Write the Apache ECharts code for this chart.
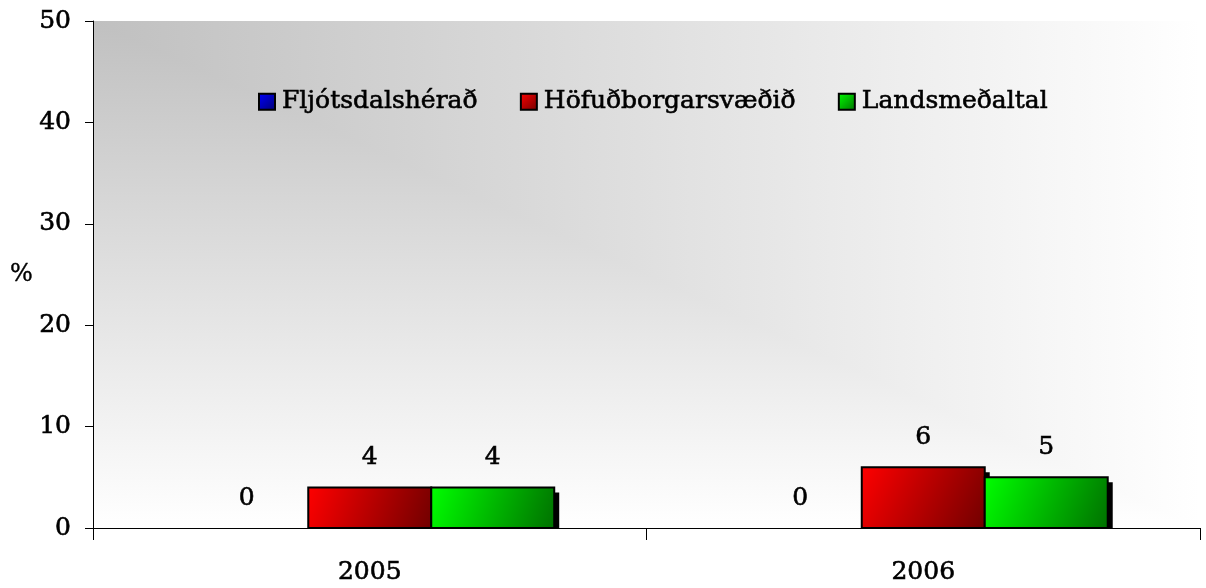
<!DOCTYPE html>
<html>
<head>
<meta charset="utf-8">
<script src="https://cdn.jsdelivr.net/npm/echarts@6/dist/echarts.min.js"></script>
<style>
  html, body { margin: 0; padding: 0; background: #fff; }
  #main { width: 1206px; height: 588px; }
</style>
</head>
<body>
<div id="main"></div>
<script>
var years = ['2005', '2006'];
var seriesNames = ['Fljótsdalshérað', 'Höfuðborgarsvæðið', 'Landsmeðaltal'];
var fljotsdalsherad = [0, 0];
var hofudborgarsvaedid = [4, 6];
var landsmedaltal = [4, 5];

var myChart = echarts.init(document.getElementById('main'));

var font = 'DejaVu Serif';
var fontSize = 25;
var G = { left: 93, right: 6, top: 21, bottom: 60 };
var W = 1206, H = 588;

function grad(light, dark) {
    return new echarts.graphic.LinearGradient(0, 0, 1, 1, [
        { offset: 0, color: light },
        { offset: 1, color: dark }
    ]);
}

var colors = [
    grad('#0000ff', '#000070'),
    grad('#ff0000', '#700000'),
    grad('#00ff00', '#007000')
];

// bars drawn by hand so the drop shadow sits behind the border
function makeSeries(idx, name, values) {
    var data = values.map(function (v, i) { return [i, v]; });
    return {
        name: name,
        type: 'custom',
        data: data,
        encode: { x: 0, y: 1 },
        itemStyle: { color: colors[idx], borderColor: '#000', borderWidth: 2 },
        renderItem: function (params, api) {
            var cat = api.value(0), val = api.value(1);
            var catW = api.size([1, 0])[0];
            var bw = catW * 0.2222;
            var c = api.coord([cat, val]);
            var base = api.coord([cat, 0]);
            var x = c[0] + (idx - 1) * bw - bw / 2;
            var h = base[1] - c[1];
            var children = [];
            if (h > 0) {
                if (h > 5) {
                    children.push({
                        type: 'rect',
                        shape: { x: x + 5, y: c[1] + 5, width: bw, height: h - 5 },
                        style: { fill: '#000' }
                    });
                }
                children.push({
                    type: 'rect',
                    shape: { x: x, y: c[1], width: bw, height: h },
                    style: { fill: colors[idx], stroke: '#000', lineWidth: 2 }
                });
            }
            children.push({
                type: 'text',
                style: {
                    text: String(val),
                    x: x + bw / 2,
                    y: c[1] - 30,
                    align: 'center',
                    verticalAlign: 'middle',
                    fill: '#000',
                    font: fontSize + 'px "' + font + '"',
                    stroke: '#000',
                    lineWidth: 0.6
                }
            });
            return { type: 'group', children: children };
        }
    };
}

// plot background: gradient from the top-left corner, light grey to white
var x0 = G.left, y0 = G.top, x1 = W - G.right, y1 = H - G.bottom;
function bgGrad(horizontal) {
    return new echarts.graphic.LinearGradient(0, 0, horizontal ? 1 : 0, horizontal ? 0 : 1, [
        { offset: 0, color: '#c0c0c0' },
        { offset: 1, color: '#ffffff' }
    ]);
}

option = {
    backgroundColor: '#fff',
    textStyle: { fontFamily: font },
    graphic: [{
        type: 'rect', z: -11, silent: true,
        shape: { x: x0, y: y0, width: x1 - x0, height: y1 - y0 },
        style: { fill: bgGrad(false) }
    }, {
        type: 'polygon', z: -10, silent: true,
        shape: { points: [[x0, y0], [x1, y0], [x1, y1]] },
        style: { fill: bgGrad(true) }
    }],
    grid: {
        left: G.left,
        right: G.right,
        top: G.top,
        bottom: G.bottom,
        outerBoundsMode: 'none',
        containLabel: false
    },
    legend: {
        top: 84,
        left: 253,
        itemWidth: 16,
        itemHeight: 16,
        itemGap: 42,
        icon: 'rect',
        textStyle: {
            fontFamily: font, fontSize: fontSize, color: '#000',
            textBorderColor: '#000', textBorderWidth: 0.6, padding: [0, 0, 0, 2]
        },
        data: seriesNames
    },
    xAxis: {
        type: 'category',
        data: years,
        axisLine: { lineStyle: { color: '#000', width: 1 } },
        axisTick: { show: true, length: 12, lineStyle: { color: '#000' } },
        axisLabel: {
            color: '#000', fontFamily: font, fontSize: fontSize, margin: 32,
            textBorderColor: '#000', textBorderWidth: 0.6
        }
    },
    yAxis: {
        type: 'value',
        min: 0,
        max: 50,
        interval: 10,
        name: '%',
        nameLocation: 'middle',
        nameRotate: 0,
        nameGap: 60,
        nameTextStyle: {
            color: '#000', fontFamily: font, fontSize: 24,
            textBorderColor: '#000', textBorderWidth: 0.4
        },
        axisLine: { show: true, lineStyle: { color: '#000', width: 1 } },
        axisTick: { show: true, length: 8, lineStyle: { color: '#000' } },
        axisLabel: {
            color: '#000', fontFamily: font, fontSize: fontSize, margin: 22,
            textBorderColor: '#000', textBorderWidth: 0.6
        },
        splitLine: { show: false }
    },
    series: [
        makeSeries(0, seriesNames[0], fljotsdalsherad),
        makeSeries(1, seriesNames[1], hofudborgarsvaedid),
        makeSeries(2, seriesNames[2], landsmedaltal)
    ]
};
myChart.setOption(option);
</script>
</body>
</html>
